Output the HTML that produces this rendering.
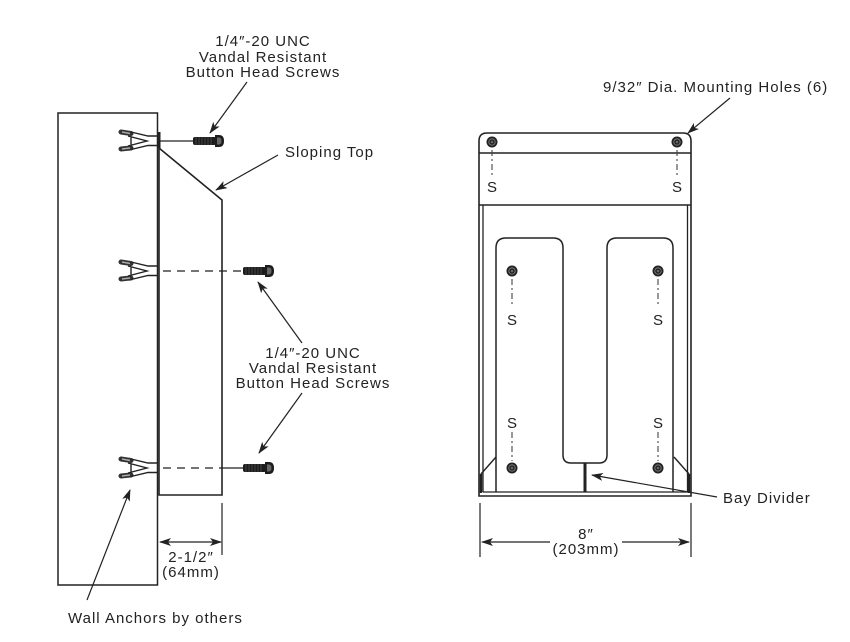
<!DOCTYPE html>
<html><head><meta charset="utf-8"><style>
html,body{margin:0;padding:0;background:#fff;}
svg{display:block;}
text{font-family:"Liberation Sans",sans-serif;font-size:15px;fill:#222;letter-spacing:1px;}
.s{letter-spacing:0;}
</style></head><body>
<svg width="850" height="642" viewBox="0 0 850 642" xmlns="http://www.w3.org/2000/svg">
<defs>
<marker id="ah" markerWidth="12" markerHeight="8" refX="11" refY="4" orient="auto" markerUnits="userSpaceOnUse">
<path d="M0,0 L12,4 L0,8 L3,4 Z" fill="#222"/>
</marker>
<g id="anchor">
<line x1="121" y1="-9" x2="131" y2="-7.5" stroke="#333" stroke-width="5" stroke-linecap="round"/>
<line x1="122" y1="-9" x2="130" y2="-7.5" stroke="#aaa" stroke-width="1.5"/>
<line x1="121" y1="8" x2="131" y2="7" stroke="#333" stroke-width="5" stroke-linecap="round"/>
<line x1="122" y1="8" x2="130" y2="7" stroke="#aaa" stroke-width="1.5"/>
<path d="M131,-9 L148,-5 L157,-5 M131,8.5 L148,4.5 L157,4.5" fill="none" stroke="#222" stroke-width="1.4"/>
<path d="M128,-5 L147,0 L128,5 M131,-3.5 L131,3.5" fill="none" stroke="#222" stroke-width="1.4"/>
</g>
<g id="screw">
<rect x="0" y="-4" width="23" height="8" rx="2" fill="#1c1c1c"/>
<path d="M3,-4 v8 M6,-4 v8 M9,-4 v8 M12,-4 v8 M15,-4 v8 M18,-4 v8" stroke="#555" stroke-width="0.7"/>
<path d="M22,-6 L26,-6 Q31,-6 31,0 Q31,6 26,6 L22,6 Z" fill="#1c1c1c"/>
<path d="M24,-3.5 L26,-3.5 Q28.5,-3.5 28.5,0 Q28.5,3.5 26,3.5 L24,3.5 Z" fill="#666"/>
</g>
<g id="hole">
<circle r="5.5" fill="#222"/>
<circle r="3.2" fill="none" stroke="#888" stroke-width="0.8"/>
<circle r="1.3" fill="#666"/>
</g>
</defs>

<!-- LEFT PANEL -->
<rect x="58" y="113" width="99.5" height="472" fill="none" stroke="#222" stroke-width="1.5"/>
<path d="M159,132 L159,495 L222,495 L222,200 L159,148" fill="none" stroke="#222" stroke-width="1.6"/>
<line x1="159" y1="132" x2="159" y2="148" stroke="#222" stroke-width="3"/>

<use href="#anchor" transform="translate(0,141)"/>
<use href="#anchor" transform="translate(0,271)"/>
<use href="#anchor" transform="translate(0,468)"/>

<line x1="160" y1="141" x2="194" y2="141" stroke="#222" stroke-width="1.3"/>
<line x1="163" y1="271" x2="243" y2="271" stroke="#222" stroke-width="1.3" stroke-dasharray="8 6"/>
<line x1="163" y1="468" x2="222" y2="468" stroke="#222" stroke-width="1.3" stroke-dasharray="8 6"/>
<line x1="222" y1="468" x2="243" y2="468" stroke="#222" stroke-width="1.3"/>
<use href="#screw" transform="translate(193,141)"/>
<use href="#screw" transform="translate(243,271)"/>
<use href="#screw" transform="translate(243,468)"/>

<text x="263" y="46" text-anchor="middle">1/4″-20 UNC</text>
<text x="263" y="62" text-anchor="middle">Vandal Resistant</text>
<text x="263" y="77" text-anchor="middle">Button Head Screws</text>
<line x1="247" y1="82" x2="210" y2="133" stroke="#222" stroke-width="1.2" marker-end="url(#ah)"/>

<text x="285" y="157">Sloping Top</text>
<line x1="278" y1="155" x2="216" y2="190" stroke="#222" stroke-width="1.2" marker-end="url(#ah)"/>

<text x="313" y="358" text-anchor="middle">1/4″-20 UNC</text>
<text x="313" y="373" text-anchor="middle">Vandal Resistant</text>
<text x="313" y="388" text-anchor="middle">Button Head Screws</text>
<line x1="302" y1="343" x2="258" y2="282" stroke="#222" stroke-width="1.2" marker-end="url(#ah)"/>
<line x1="302" y1="393" x2="259" y2="453" stroke="#222" stroke-width="1.2" marker-end="url(#ah)"/>

<line x1="222" y1="503" x2="222" y2="555" stroke="#222" stroke-width="1.2"/>
<line x1="191" y1="542" x2="160" y2="542" stroke="#222" stroke-width="1.2" marker-end="url(#ah)"/>
<line x1="191" y1="542" x2="221" y2="542" stroke="#222" stroke-width="1.2" marker-end="url(#ah)"/>
<text x="191" y="562" text-anchor="middle">2-1/2″</text>
<text x="191" y="577" text-anchor="middle">(64mm)</text>

<text x="68" y="623">Wall Anchors by others</text>
<line x1="87" y1="600" x2="130" y2="490" stroke="#222" stroke-width="1.2" marker-end="url(#ah)"/>

<!-- RIGHT PANEL -->
<path d="M479,496 L479,141 Q479,133 487,133 L683,133 Q691,133 691,141 L691,496 Z" fill="none" stroke="#222" stroke-width="1.6"/>
<line x1="479" y1="153" x2="691" y2="153" stroke="#222" stroke-width="1.5"/>
<line x1="479" y1="205" x2="691" y2="205" stroke="#222" stroke-width="1.5"/>
<line x1="483" y1="205" x2="483" y2="492" stroke="#222" stroke-width="1.3"/>
<line x1="687.5" y1="205" x2="687.5" y2="492" stroke="#222" stroke-width="1.3"/>
<line x1="483" y1="492" x2="687.5" y2="492" stroke="#222" stroke-width="1.3"/>
<path d="M496,492 L496,248 Q496,238 506,238 L553,238 Q563,238 563,248 L563,455 Q563,463 571,463 L599,463 Q607,463 607,455 L607,248 Q607,238 617,238 L663,238 Q673,238 673,248 L673,492" fill="none" stroke="#222" stroke-width="1.5"/>
<line x1="585" y1="463" x2="585" y2="492" stroke="#222" stroke-width="3"/>
<path d="M481,474 L496,457 M689,474 L674,457" fill="none" stroke="#222" stroke-width="1.4"/>
<path d="M481,474 L481,493 M689,474 L689,493" fill="none" stroke="#222" stroke-width="2.5"/>

<use href="#hole" transform="translate(492,142)"/>
<use href="#hole" transform="translate(677,142)"/>
<use href="#hole" transform="translate(512,271)"/>
<use href="#hole" transform="translate(658,271)"/>
<use href="#hole" transform="translate(512,468)"/>
<use href="#hole" transform="translate(658,468)"/>
<g stroke="#444" stroke-width="1.1" stroke-dasharray="6 3 2 3" fill="none">
<line x1="492" y1="150" x2="492" y2="178"/>
<line x1="677" y1="150" x2="677" y2="178"/>
<line x1="512" y1="279" x2="512" y2="307"/>
<line x1="658" y1="279" x2="658" y2="307"/>
<line x1="512" y1="432" x2="512" y2="461"/>
<line x1="658" y1="432" x2="658" y2="461"/>
</g>
<text class="s" x="492" y="192" text-anchor="middle">S</text>
<text class="s" x="677" y="192" text-anchor="middle">S</text>
<text class="s" x="512" y="325" text-anchor="middle">S</text>
<text class="s" x="658" y="325" text-anchor="middle">S</text>
<text class="s" x="512" y="428" text-anchor="middle">S</text>
<text class="s" x="658" y="428" text-anchor="middle">S</text>

<text x="603" y="92">9/32″ Dia. Mounting Holes (6)</text>
<line x1="730" y1="98" x2="688" y2="133" stroke="#222" stroke-width="1.2" marker-end="url(#ah)"/>

<text x="723" y="503">Bay Divider</text>
<line x1="717" y1="497" x2="592" y2="475" stroke="#222" stroke-width="1.2" marker-end="url(#ah)"/>

<line x1="480" y1="503" x2="480" y2="557" stroke="#222" stroke-width="1.2"/>
<line x1="691" y1="503" x2="691" y2="557" stroke="#222" stroke-width="1.2"/>
<line x1="550" y1="542" x2="482" y2="542" stroke="#222" stroke-width="1.2" marker-end="url(#ah)"/>
<line x1="622" y1="542" x2="689" y2="542" stroke="#222" stroke-width="1.2" marker-end="url(#ah)"/>
<text x="586" y="539" text-anchor="middle">8″</text>
<text x="586" y="554" text-anchor="middle">(203mm)</text>
</svg>
</body></html>
